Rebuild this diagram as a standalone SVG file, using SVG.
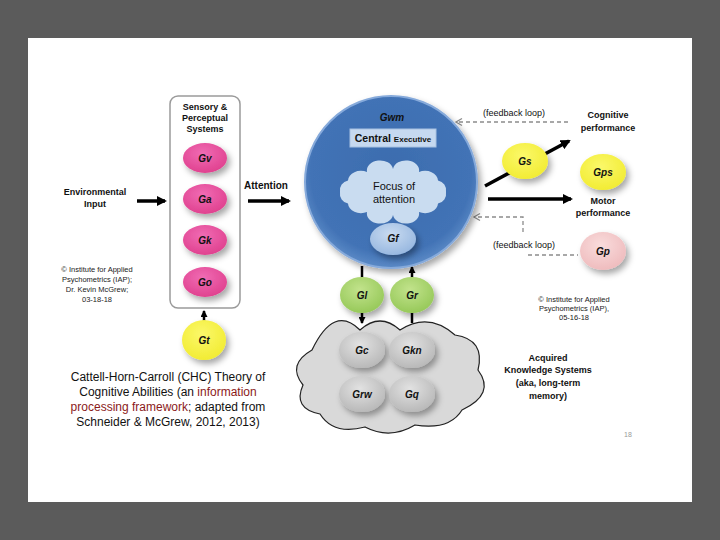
<svg xmlns="http://www.w3.org/2000/svg" width="720" height="540" viewBox="0 0 720 540">
<defs>
<style>
text{font-family:"Liberation Sans",Arial,sans-serif;fill:#111}
.b{font-weight:bold}
.lbl{font-weight:bold;font-style:italic;font-size:10px;text-anchor:middle}
.mid{text-anchor:middle}
.sm{font-size:7.5px;text-anchor:middle;fill:#222}
.hd{font-weight:bold;font-size:9px;text-anchor:middle}
.thick{stroke:#000;stroke-width:3.5;fill:none}
.dash{stroke:#8c8c8c;stroke-width:1.3;stroke-dasharray:4 3;fill:none}
.red{fill:#8b1a1a}
</style>
<radialGradient id="pink" cx="45%" cy="35%" r="65%"><stop offset="0" stop-color="#f06cb4"/><stop offset="1" stop-color="#e0418f"/></radialGradient>
<radialGradient id="yel" cx="45%" cy="35%" r="65%"><stop offset="0" stop-color="#fbf86a"/><stop offset="1" stop-color="#f2ec34"/></radialGradient>
<radialGradient id="grn" cx="45%" cy="35%" r="65%"><stop offset="0" stop-color="#c2e38c"/><stop offset="1" stop-color="#97c95a"/></radialGradient>
<radialGradient id="gry" cx="45%" cy="35%" r="65%"><stop offset="0" stop-color="#e2e2e2"/><stop offset="1" stop-color="#b9b9b9"/></radialGradient>
<radialGradient id="lpk" cx="45%" cy="35%" r="65%"><stop offset="0" stop-color="#f9dcdc"/><stop offset="1" stop-color="#efbcbe"/></radialGradient>
<radialGradient id="lbl" cx="45%" cy="35%" r="65%"><stop offset="0" stop-color="#c9dbf1"/><stop offset="1" stop-color="#98b8e0"/></radialGradient>
<radialGradient id="blue" cx="50%" cy="45%" r="55%"><stop offset="0" stop-color="#3c6cae"/><stop offset="0.85" stop-color="#4273b6"/><stop offset="1" stop-color="#5b8ac6"/></radialGradient>
<filter id="sh" x="-40%" y="-40%" width="180%" height="180%"><feDropShadow dx="3" dy="4" stdDeviation="3" flood-color="#000" flood-opacity="0.35"/></filter>
<marker id="ah" markerUnits="userSpaceOnUse" markerWidth="10" markerHeight="10" refX="8" refY="5" orient="auto"><path d="M0,0 L10,5 L0,10 z" fill="#000"/></marker>
<marker id="ahs" markerUnits="userSpaceOnUse" markerWidth="7" markerHeight="7" refX="6" refY="3.5" orient="auto"><path d="M0,0 L7,3.5 L0,7 z" fill="#000"/></marker>
<marker id="ahb" markerUnits="userSpaceOnUse" markerWidth="10" markerHeight="10" refX="8" refY="5" orient="auto"><path d="M0,0 L10,5 L0,10 z" fill="#7fa6d8"/></marker>
<marker id="open" markerUnits="userSpaceOnUse" markerWidth="9" markerHeight="9" refX="7" refY="4" orient="auto" overflow="visible"><path d="M1,0.5 L7,4 L1,7.5" fill="none" stroke="#8c8c8c" stroke-width="1.3"/></marker>
</defs>
<rect x="0" y="0" width="720" height="540" fill="#5b5b5b"/>
<rect x="28" y="38" width="664" height="464" fill="#fff"/>

<g id="connectors">
<line class="thick" x1="137" y1="201" x2="165" y2="201" marker-end="url(#ah)"/>
<line class="thick" x1="248" y1="201" x2="289" y2="201" marker-end="url(#ah)"/>
<line x1="204" y1="321" x2="204" y2="311" stroke="#000" stroke-width="2.5" marker-end="url(#ahs)"/>
<line x1="393" y1="147" x2="393" y2="172" stroke="#7fa6d8" stroke-width="4" marker-end="url(#ahb)"/>
<line class="thick" x1="485" y1="186" x2="569" y2="141" marker-end="url(#ah)"/>
<line class="thick" x1="488" y1="199" x2="571" y2="199" marker-end="url(#ah)"/>
<line x1="362" y1="266" x2="362" y2="278" stroke="#000" stroke-width="2.5"/>
<line x1="362" y1="312" x2="362" y2="323" stroke="#000" stroke-width="2.5" marker-end="url(#ahs)"/>
<line x1="412" y1="278" x2="412" y2="267" stroke="#000" stroke-width="2.5" marker-end="url(#ahs)"/>
<line x1="412" y1="312" x2="412" y2="323" stroke="#000" stroke-width="2.5"/>
<path class="dash" d="M568,122 L456,122" marker-end="url(#open)"/>
<path class="dash" d="M523,232 L523,217 L474,217" marker-end="url(#open)"/>
<path class="dash" d="M528,255 L578,255"/>
</g>

<g id="sensory">
<rect x="170" y="96" width="70" height="212" rx="8" fill="#fff" stroke="#9a9a9a" stroke-width="1.5"/>
<text class="hd" x="205" y="110">Sensory &amp;</text>
<text class="hd" x="205" y="121">Perceptual</text>
<text class="hd" x="205" y="132">Systems</text>
</g>
<g id="Gv"><ellipse cx="205" cy="158" rx="22" ry="15" fill="url(#pink)" filter="url(#sh)"/><text class="lbl" x="205" y="162">Gv</text></g>
<g id="Ga"><ellipse cx="205" cy="199" rx="22" ry="15" fill="url(#pink)" filter="url(#sh)"/><text class="lbl" x="205" y="203">Ga</text></g>
<g id="Gk"><ellipse cx="205" cy="240" rx="22" ry="15" fill="url(#pink)" filter="url(#sh)"/><text class="lbl" x="205" y="244">Gk</text></g>
<g id="Go"><ellipse cx="205" cy="282" rx="22" ry="15" fill="url(#pink)" filter="url(#sh)"/><text class="lbl" x="205" y="286">Go</text></g>
<g id="Gt"><ellipse cx="204" cy="340" rx="22" ry="20" fill="url(#yel)" filter="url(#sh)"/><text class="lbl" x="204" y="344">Gt</text></g>

<g id="env"><text class="hd" x="95" y="195">Environmental</text><text class="hd" x="95" y="207">Input</text></g>
<g id="copy1" fill="#222">
<text class="sm" x="97" y="272" fill="#222">© Institute for Applied</text>
<text class="sm" x="97" y="282" fill="#222">Psychometrics (IAP);</text>
<text class="sm" x="97" y="292" fill="#222">Dr. Kevin McGrew;</text>
<text class="sm" x="97" y="302" fill="#222">03-18-18</text>
</g>
<g id="attention"><text class="b" x="244" y="189" font-size="10">Attention</text></g>

<g id="Gwm">
<circle cx="391" cy="182" r="86" fill="url(#blue)" stroke="#86aadb" stroke-width="2" filter="url(#sh)"/>
<text class="lbl" x="392" y="121">Gwm</text>
<rect x="350" y="129" width="86" height="18" fill="#c6d9f0" stroke="#a8c2e2"/>
<text class="b mid" x="393" y="142" font-size="10.5">Central <tspan font-size="8">Executive</tspan></text>
<path d="M393,169 A13,10 0 0 1 419,172 A13,10 0 0 1 438,180.5 A10,10 0 0 1 446,192 A10,10 0 0 1 438,203.5 A13,10 0 0 1 419,212 A13,10 0 0 1 393,215 A13,10 0 0 1 367,212 A13,10 0 0 1 348,203.5 A10,10 0 0 1 340,192 A10,10 0 0 1 348,180.5 A13,10 0 0 1 367,172 A13,10 0 0 1 393,169 Z" fill="#c9dcf0"/>
<text class="mid" x="394" y="190" font-size="11">Focus of</text>
<text class="mid" x="394" y="203" font-size="11">attention</text>
</g>
<g id="Gf"><ellipse cx="393" cy="239" rx="23" ry="16" fill="url(#lbl)" filter="url(#sh)"/><text class="lbl" x="393" y="242" font-size="8">Gf</text></g>

<g id="Gl"><ellipse cx="362" cy="295" rx="22" ry="18" fill="url(#grn)" filter="url(#sh)"/><text class="lbl" x="362" y="299">Gl</text></g>
<g id="Gr"><ellipse cx="412" cy="295" rx="22" ry="18" fill="url(#grn)" filter="url(#sh)"/><text class="lbl" x="412" y="299">Gr</text></g>

<g id="ltm">
<path d="M312,350 Q334,304 360,330 Q380,312 400,330 Q428.5,311.5 455,335 Q485.5,339.5 478,370 Q496,394 462,410 Q449.5,430.5 415,425 Q390,440 365,427 Q333.5,435.5 320,414 Q292.5,408.5 303,385 Q286.5,364.5 312,350 Z" fill="#d9d9d9" stroke="#222" stroke-width="1.2"/>
</g>
<g id="Gc"><ellipse cx="362" cy="350" rx="23" ry="18" fill="url(#gry)" filter="url(#sh)"/><text class="lbl" x="362" y="354">Gc</text></g>
<g id="Gkn"><ellipse cx="412" cy="350" rx="23" ry="18" fill="url(#gry)" filter="url(#sh)"/><text class="lbl" x="412" y="354">Gkn</text></g>
<g id="Grw"><ellipse cx="362" cy="394" rx="23" ry="18" fill="url(#gry)" filter="url(#sh)"/><text class="lbl" x="362" y="398">Grw</text></g>
<g id="Gq"><ellipse cx="412" cy="394" rx="23" ry="18" fill="url(#gry)" filter="url(#sh)"/><text class="lbl" x="412" y="398">Gq</text></g>

<g id="fb1"><text class="mid" x="514" y="116" font-size="9">(feedback loop)</text></g>
<g id="cog"><text class="hd" x="608" y="118" font-size="9.5">Cognitive</text><text class="hd" x="608" y="131" font-size="9.5">performance</text></g>
<g id="Gs"><ellipse cx="525" cy="161" rx="23" ry="18" fill="url(#yel)" filter="url(#sh)"/><text class="lbl" x="525" y="165">Gs</text></g>
<g id="Gps"><ellipse cx="603" cy="172" rx="23" ry="18" fill="url(#yel)" filter="url(#sh)"/><text class="lbl" x="603" y="176">Gps</text></g>
<g id="motor"><text class="hd" x="603" y="204" font-size="9.5">Motor</text><text class="hd" x="603" y="216" font-size="9.5">performance</text></g>
<g id="fb2"><text class="mid" x="524" y="248" font-size="9">(feedback loop)</text></g>
<g id="Gp"><ellipse cx="603" cy="251" rx="23" ry="19" fill="url(#lpk)" filter="url(#sh)"/><text class="lbl" x="603" y="255">Gp</text></g>

<g id="copy2">
<text class="sm" x="574" y="302" fill="#222">© Institute for Applied</text>
<text class="sm" x="574" y="311" fill="#222">Psychometrics (IAP),</text>
<text class="sm" x="574" y="320" fill="#222">05-16-18</text>
</g>
<g id="akn">
<text class="hd" x="548" y="361" font-size="9.5">Acquired</text>
<text class="hd" x="548" y="373" font-size="9.5">Knowledge Systems</text>
<text class="hd" x="548" y="386" font-size="9.5">(aka, long-term</text>
<text class="hd" x="548" y="399" font-size="9.5">memory)</text>
</g>
<g id="title">
<text class="mid" x="168" y="381" font-size="12">Cattell-Horn-Carroll (CHC) Theory of</text>
<text class="mid" x="168" y="396" font-size="12">Cognitive Abilities (an <tspan class="red">information</tspan></text>
<text class="mid" x="168" y="411" font-size="12"><tspan class="red">processing framework</tspan>; adapted from</text>
<text class="mid" x="168" y="426" font-size="12">Schneider &amp; McGrew, 2012, 2013)</text>
</g>
<text x="628" y="437" font-size="7" class="mid" style="fill:#999">18</text>
</svg>
